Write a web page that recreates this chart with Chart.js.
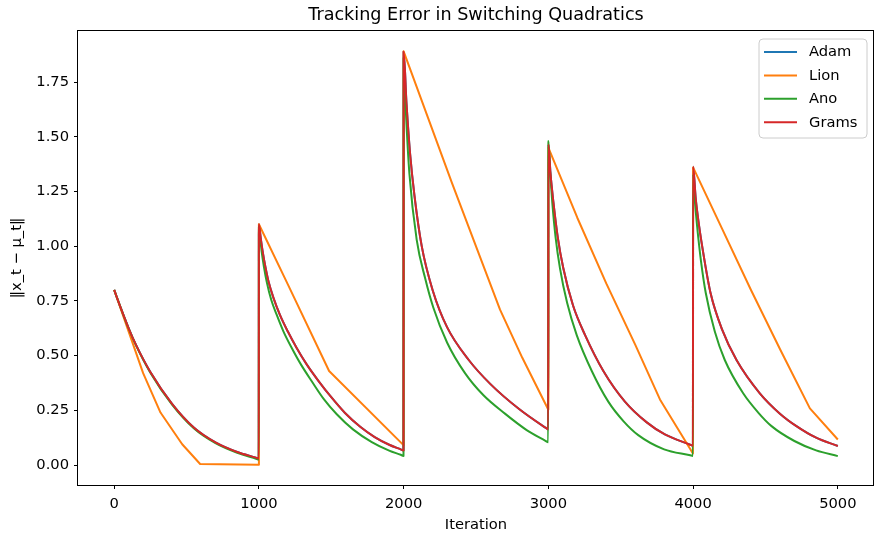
<!DOCTYPE html>
<html><head><meta charset="utf-8">
<script src="https://cdn.jsdelivr.net/npm/chart.js@4"></script>
<style>html,body{margin:0;padding:0;background:#fff}#wrap{width:875px;height:534px;position:relative}</style>
</head><body><div id="wrap"><canvas id="c"></canvas></div>
<script>
const chartTitle = 'Tracking Error in Switching Quadratics';
const xLabel = 'Iteration';
const yLabel = '\u2016x_t \u2212 \u03bc_t\u2016';
const seriesNames = ['Adam', 'Lion', 'Ano', 'Grams'];
const seriesColors = ['#1f77b4', '#ff7f0e', '#2ca02c', '#d62728'];
const xTicks = [0, 1000, 2000, 3000, 4000, 5000];
const yTicks = [0, 0.25, 0.5, 0.75, 1.0, 1.25, 1.5, 1.75];

// Grams (Adam lies exactly underneath it)
const gramsT = [0, 50, 100, 150, 250, 400, 550, 700, 850, 980, 999,
  1000, 1012, 1025, 1045, 1066, 1100, 1146, 1200, 1261, 1330, 1411, 1500, 1595, 1700, 1800, 1900, 1980, 1999,
  2000, 2020, 2045, 2075, 2125, 2200, 2300, 2450, 2600, 2800, 2980, 2999,
  3000, 3015, 3035, 3065, 3103, 3170, 3253, 3380, 3529, 3680, 3805, 3980, 3999,
  4000, 4018, 4042, 4075, 4121, 4200, 4300, 4461, 4600, 4714, 4850, 5000];
const gramsV = [0.80, 0.71, 0.625, 0.55, 0.425, 0.28, 0.172, 0.104, 0.06, 0.034, 0.03,
  1.10, 1.04, 0.98, 0.905, 0.84, 0.765, 0.685, 0.61, 0.535, 0.46, 0.385, 0.31, 0.238, 0.175, 0.128, 0.093, 0.072, 0.067,
  1.888, 1.65, 1.42, 1.23, 1.00, 0.80, 0.63, 0.48, 0.37, 0.255, 0.171, 0.163,
  1.465, 1.33, 1.20, 1.04, 0.90, 0.73, 0.595, 0.43, 0.29, 0.195, 0.14, 0.093, 0.088,
  1.363, 1.22, 1.09, 0.95, 0.785, 0.62, 0.48, 0.328, 0.235, 0.178, 0.125, 0.087];
const adamT = gramsT.slice();
const adamV = gramsV.slice();

const anoT = [0, 50, 100, 150, 250, 400, 550, 700, 850, 980, 999,
  1000, 1010, 1020, 1035, 1054, 1085, 1124, 1170, 1227, 1290, 1365, 1450, 1538, 1650, 1780, 1900, 1980, 1999,
  2000, 2015, 2040, 2090, 2150, 2205, 2300, 2424, 2550, 2700, 2850, 2980, 2999,
  3000, 3012, 3027, 3050, 3080, 3130, 3196, 3300, 3414, 3520, 3621, 3800, 3980, 3999,
  4000, 4012, 4028, 4055, 4088, 4150, 4219, 4346, 4450, 4542, 4700, 4850, 5000];
const anoV = [0.80, 0.71, 0.624, 0.548, 0.422, 0.276, 0.168, 0.10, 0.056, 0.029, 0.025,
  1.09, 1.03, 0.97, 0.905, 0.837, 0.755, 0.685, 0.61, 0.535, 0.46, 0.383, 0.30, 0.232, 0.163, 0.105, 0.066, 0.047, 0.042,
  1.86, 1.62, 1.33, 1.03, 0.85, 0.72, 0.56, 0.42, 0.32, 0.235, 0.16, 0.111, 0.104,
  1.48, 1.34, 1.20, 1.04, 0.90, 0.74, 0.594, 0.43, 0.29, 0.20, 0.137, 0.072, 0.045, 0.042,
  1.33, 1.21, 1.09, 0.93, 0.785, 0.61, 0.48, 0.328, 0.24, 0.178, 0.11, 0.067, 0.041];

const lionT = [0, 100, 200, 320, 470, 594, 999,
  1000, 1204, 1485, 1999,
  2000, 2333, 2666, 2820, 2999,
  3000, 3200, 3400, 3600, 3771, 3999,
  4000, 4200, 4400, 4600, 4807, 5000];
const lionV = [0.80, 0.61, 0.42, 0.24, 0.095, 0.005, 0.002,
  1.10, 0.82, 0.43, 0.091,
  1.89, 1.29, 0.71, 0.49, 0.254,
  1.45, 1.13, 0.83, 0.55, 0.30, 0.053,
  1.36, 1.08, 0.80, 0.53, 0.259, 0.117];

const FONT = 'DejaVu Sans';
const pts = (T, V) => T.map((t, i) => ({ x: t, y: V[i] }));
const seriesT = [adamT, lionT, anoT, gramsT];
const seriesV = [adamV, lionV, anoV, gramsV];

const datasets = seriesNames.map((name, i) => ({
  label: name,
  data: pts(seriesT[i], seriesV[i]),
  borderColor: seriesColors[i],
  backgroundColor: seriesColors[i],
  borderWidth: 2,
  pointRadius: 0,
  fill: false,
  order: seriesNames.length - i,
  cubicInterpolationMode: name === 'Lion' ? 'default' : 'monotone',
  tension: 0,
  borderJoinStyle: 'round'
}));

const framePlugin = {
  id: 'frame',
  afterDraw(chart) {
    const { ctx, chartArea: a } = chart;
    ctx.save();
    // title
    ctx.fillStyle = '#000';
    ctx.font = '17.6px "' + FONT + '"';
    ctx.textAlign = 'center';
    ctx.textBaseline = 'middle';
    ctx.fillText(chartTitle, (a.left + a.right) / 2, 15);
    // frame
    ctx.strokeStyle = '#000';
    ctx.lineWidth = 1;
    ctx.strokeRect(a.left - 0.5, a.top - 0.5, a.right - a.left, a.bottom - a.top + 1);
    // legend
    const bx = 759, by = 39, bw = 108, bh = 99, r = 4;
    ctx.beginPath();
    ctx.moveTo(bx + r, by);
    ctx.arcTo(bx + bw, by, bx + bw, by + bh, r);
    ctx.arcTo(bx + bw, by + bh, bx, by + bh, r);
    ctx.arcTo(bx, by + bh, bx, by, r);
    ctx.arcTo(bx, by, bx + bw, by, r);
    ctx.closePath();
    ctx.fillStyle = 'rgba(255,255,255,0.8)';
    ctx.fill();
    ctx.strokeStyle = '#cccccc';
    ctx.stroke();
    ctx.font = '14.7px "' + FONT + '"';
    ctx.textAlign = 'left';
    seriesNames.forEach((name, i) => {
      const y = 52 + i * 23.4;
      ctx.strokeStyle = seriesColors[i];
      ctx.lineWidth = 2;
      ctx.beginPath();
      ctx.moveTo(764, y);
      ctx.lineTo(797, y);
      ctx.stroke();
      ctx.fillStyle = '#000';
      ctx.fillText(name, 809, y + 0.5);
    });
    ctx.restore();
  }
};

new Chart(document.getElementById('c'), {
  type: 'line',
  data: { datasets },
  plugins: [framePlugin],
  options: {
    responsive: true,
    maintainAspectRatio: false,
    animation: false,
    devicePixelRatio: 1,
    layout: { padding: { top: 31, right: 1, left: 0, bottom: 0 } },
    plugins: { legend: { display: false }, tooltip: { enabled: false }, title: { display: false } },
    scales: {
      x: {
        type: 'linear',
        min: -250, max: 5250,
        afterFit(s) { s.height = 49; },
        afterBuildTicks(s) { s.ticks = xTicks.map(v => ({ value: v })); },
        grid: { display: true, drawOnChartArea: false, drawTicks: true, tickLength: 4, color: '#000', lineWidth: 1 },
        border: { display: false },
        ticks: { color: '#000', font: { family: FONT, size: 14.7 }, padding: 6, maxRotation: 0, autoSkip: false, callback: v => String(v) },
        title: { display: true, text: xLabel, color: '#000', font: { family: FONT, size: 14.7 }, padding: { top: 0, bottom: 0 } }
      },
      y: {
        type: 'linear',
        min: -0.091, max: 1.983,
        afterFit(s) { s.width = 78; },
        afterBuildTicks(s) { s.ticks = yTicks.map(v => ({ value: v })); },
        grid: { display: true, drawOnChartArea: false, drawTicks: true, tickLength: 4, color: '#000', lineWidth: 1 },
        border: { display: false },
        ticks: { color: '#000', font: { family: FONT, size: 14.7 }, padding: 5, autoSkip: false, callback: v => v.toFixed(2) },
        title: { display: true, text: yLabel, color: '#000', font: { family: FONT, size: 14.7 }, padding: { top: 8, bottom: 0 } }
      }
    }
  }
});
</script></body></html>
